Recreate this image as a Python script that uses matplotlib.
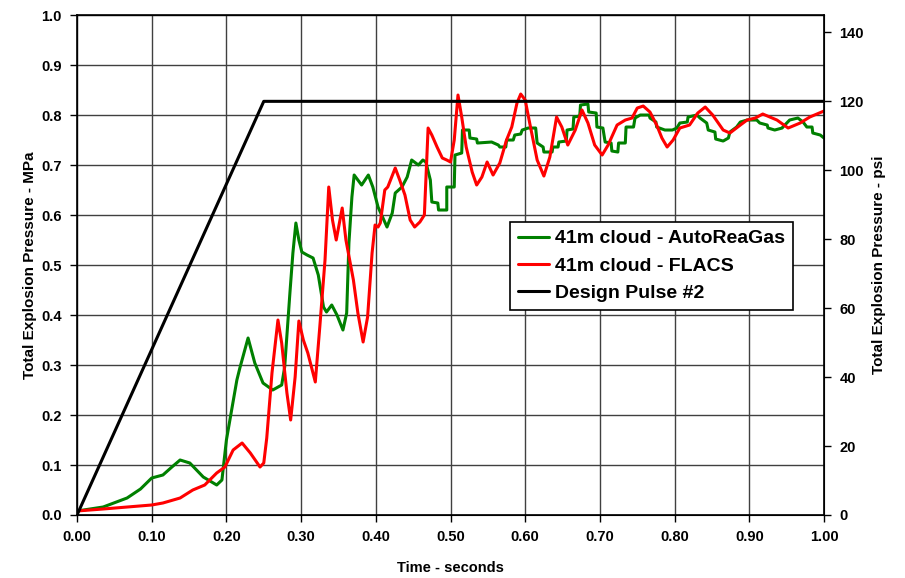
import matplotlib
matplotlib.use("Agg")
import matplotlib.pyplot as plt

plt.rcParams['font.family'] = ['Liberation Sans', 'DejaVu Sans']
plt.rcParams['font.weight'] = 'bold'

# AutoReaGas, 41 m cloud (time s, pressure MPa)
t_arg = [0.0, 0.035, 0.067, 0.085, 0.10, 0.115, 0.127, 0.138, 0.151, 0.169, 0.187,
         0.194, 0.20, 0.214, 0.218, 0.229, 0.238, 0.249, 0.262, 0.274, 0.278, 0.285,
         0.289, 0.293, 0.297, 0.301, 0.308, 0.316, 0.323, 0.330, 0.334, 0.341, 0.348,
         0.356, 0.361, 0.364, 0.368, 0.371, 0.381, 0.39, 0.396, 0.403, 0.415, 0.422,
         0.426, 0.435, 0.442, 0.448, 0.457, 0.463, 0.467, 0.473, 0.475, 0.483, 0.484,
         0.495, 0.495, 0.505, 0.506, 0.515, 0.516, 0.525, 0.526, 0.535, 0.536, 0.555,
         0.564, 0.566, 0.574, 0.575, 0.584, 0.586, 0.594, 0.596, 0.604, 0.614, 0.615,
         0.616, 0.624, 0.625, 0.636, 0.637, 0.644, 0.645, 0.655, 0.656, 0.664, 0.665,
         0.673, 0.674, 0.684, 0.685, 0.695, 0.696, 0.704, 0.707, 0.715, 0.716, 0.724,
         0.725, 0.734, 0.735, 0.745, 0.747, 0.754, 0.766, 0.767, 0.775, 0.776, 0.787,
         0.797, 0.803, 0.807, 0.817, 0.818, 0.83, 0.834, 0.843, 0.845, 0.854, 0.855,
         0.865, 0.872, 0.874, 0.883, 0.888, 0.897, 0.910, 0.914, 0.924, 0.925, 0.934,
         0.944, 0.945, 0.954, 0.965, 0.972, 0.977, 0.984, 0.985, 0.995, 1.0]
p_arg = [0.008, 0.016, 0.034, 0.052, 0.074, 0.08, 0.096, 0.11, 0.104, 0.076, 0.06,
         0.07, 0.15, 0.27, 0.294, 0.354, 0.304, 0.264, 0.25, 0.26, 0.296, 0.444,
         0.524, 0.584, 0.55, 0.526, 0.52, 0.514, 0.48, 0.416, 0.406, 0.42, 0.40,
         0.37, 0.404, 0.544, 0.636, 0.68, 0.66, 0.68, 0.656, 0.616, 0.576, 0.604,
         0.644, 0.656, 0.676, 0.71, 0.70, 0.71, 0.706, 0.67, 0.626, 0.624, 0.61,
         0.61, 0.656, 0.656, 0.72, 0.724, 0.77, 0.77, 0.754, 0.752, 0.744, 0.746,
         0.74, 0.736, 0.736, 0.75, 0.75, 0.76, 0.762, 0.77, 0.774, 0.774, 0.758,
         0.744, 0.736, 0.726, 0.726, 0.736, 0.736, 0.746, 0.748, 0.77, 0.772, 0.796,
         0.798, 0.82, 0.822, 0.806, 0.804, 0.776, 0.774, 0.746, 0.744, 0.728, 0.726,
         0.744, 0.744, 0.776, 0.776, 0.794, 0.80, 0.80, 0.794, 0.786, 0.776, 0.77,
         0.77, 0.774, 0.784, 0.786, 0.796, 0.80, 0.794, 0.784, 0.77, 0.766, 0.752,
         0.748, 0.754, 0.766, 0.776, 0.786, 0.79, 0.79, 0.784, 0.78, 0.774, 0.77,
         0.774, 0.776, 0.79, 0.794, 0.786, 0.776, 0.776, 0.764, 0.76, 0.754]

# FLACS, 41 m cloud
t_flacs = [0.0, 0.035, 0.10, 0.115, 0.138, 0.155, 0.171, 0.187, 0.198, 0.209, 0.221,
           0.232, 0.245, 0.250, 0.254, 0.261, 0.269, 0.274, 0.281, 0.286, 0.292, 0.297,
           0.303, 0.309, 0.319, 0.325, 0.332, 0.337, 0.342, 0.347, 0.355, 0.360, 0.370,
           0.376, 0.383, 0.389, 0.395, 0.399, 0.403, 0.406, 0.412, 0.416, 0.426, 0.432,
           0.439, 0.446, 0.452, 0.459, 0.465, 0.468, 0.47, 0.475, 0.482, 0.489, 0.495,
           0.50, 0.505, 0.51, 0.515, 0.521, 0.529, 0.535, 0.542, 0.549, 0.557, 0.566,
           0.575, 0.582, 0.589, 0.594, 0.600, 0.606, 0.616, 0.625, 0.633, 0.642, 0.649,
           0.657, 0.667, 0.676, 0.684, 0.693, 0.703, 0.711, 0.723, 0.734, 0.743, 0.75,
           0.758, 0.767, 0.776, 0.783, 0.79, 0.798, 0.807, 0.82, 0.831, 0.841, 0.851,
           0.865, 0.874, 0.888, 0.897, 0.908, 0.918, 0.937, 0.952, 0.968, 0.981, 1.0]
p_flacs = [0.008, 0.012, 0.02, 0.024, 0.034, 0.05, 0.06, 0.084, 0.096, 0.13, 0.144,
           0.124, 0.096, 0.104, 0.154, 0.284, 0.39, 0.344, 0.244, 0.19, 0.276, 0.388,
           0.35, 0.324, 0.266, 0.376, 0.51, 0.656, 0.59, 0.55, 0.614, 0.55, 0.47,
           0.404, 0.346, 0.396, 0.524, 0.58, 0.576, 0.584, 0.65, 0.656, 0.694, 0.67,
           0.64, 0.59, 0.576, 0.586, 0.60, 0.704, 0.774, 0.76, 0.736, 0.714, 0.71,
           0.706, 0.75, 0.84, 0.796, 0.736, 0.686, 0.66, 0.676, 0.706, 0.68, 0.704,
           0.75, 0.776, 0.824, 0.842, 0.83, 0.784, 0.71, 0.678, 0.716, 0.796, 0.776,
           0.74, 0.77, 0.81, 0.784, 0.74, 0.72, 0.74, 0.78, 0.79, 0.794, 0.814,
           0.818, 0.806, 0.78, 0.754, 0.736, 0.75, 0.774, 0.78, 0.804, 0.816, 0.80,
           0.77, 0.764, 0.78, 0.79, 0.794, 0.802, 0.79, 0.774, 0.784, 0.796, 0.808]

# Design Pulse #2: ramp to 120 psi at 0.25 s, then constant
MPA_PER_PSI = 0.0068948
t_design = [0.0, 0.25, 1.0]
p_design = [0.0, 120 * MPA_PER_PSI, 120 * MPA_PER_PSI]

x_ticks = [0.0, 0.1, 0.2, 0.3, 0.4, 0.5, 0.6, 0.7, 0.8, 0.9, 1.0]
y_ticks = [0.0, 0.1, 0.2, 0.3, 0.4, 0.5, 0.6, 0.7, 0.8, 0.9, 1.0]
psi_ticks = [0, 20, 40, 60, 80, 100, 120, 140]

fig = plt.figure(figsize=(9.05, 5.78), dpi=100)
ax = fig.add_axes([0.0851, 0.109, 0.8254, 0.865])

line_kw = dict(lw=2.2, solid_joinstyle='round', solid_capstyle='round')
ax.plot(t_arg, p_arg, color='#008000', label='41m cloud - AutoReaGas', **line_kw)
ax.plot(t_flacs, p_flacs, color='#ff0000', label='41m cloud - FLACS', **line_kw)
ax.plot(t_design, p_design, color='black', label='Design Pulse #2', **line_kw)

ax.set_xlim(0, 1)
ax.set_ylim(0, 1)
ax.set_xticks(x_ticks)
ax.set_yticks(y_ticks)
ax.set_xticklabels(['%.2f' % v for v in x_ticks])
ax.set_yticklabels(['%.1f' % v for v in y_ticks])
ax.grid(True, color='#404040', lw=1.0)
ax.tick_params(direction='out', length=5, width=1, labelsize=10.5, pad=6)
for s in ax.spines.values():
    s.set_linewidth(1.2)

ax.set_xlabel('Time - seconds', fontsize=10.5, fontweight='bold', labelpad=12)
ax.set_ylabel('Total Explosion Pressure - MPa', fontsize=11, fontweight='bold', labelpad=3)

ax2 = ax.twinx()
ax2.set_ylim(0, 1 / MPA_PER_PSI)
ax2.set_yticks(psi_ticks)
ax2.tick_params(direction='out', length=5, width=1, labelsize=10.5, pad=6)
ax2.set_ylabel('Total Explosion Pressure - psi', fontsize=11, fontweight='bold', labelpad=6)

leg = ax.legend(loc='upper left', bbox_to_anchor=(0.58, 0.586), fontsize=14,
                frameon=True, fancybox=False, framealpha=1, edgecolor='black',
                handlelength=1.6, handletextpad=0.3, borderpad=0.4,
                labelspacing=0.5, borderaxespad=0)
leg.get_frame().set_linewidth(1.2)
for txt in leg.get_texts():
    txt.set_fontweight('bold')

fig.savefig('out.png', dpi=100)
